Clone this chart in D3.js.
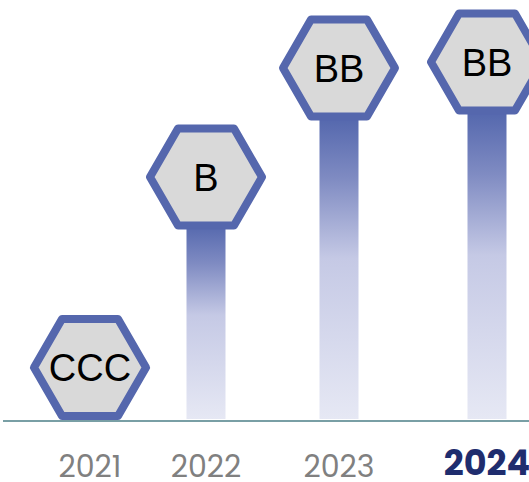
<!DOCTYPE html>
<html>
<head>
<meta charset="utf-8">
<script src="https://cdn.jsdelivr.net/npm/d3@7"></script>
<style>
  html, body { margin: 0; padding: 0; background: #fff; }
  svg { display: block; }
</style>
</head>
<body>
<div id="chart"></div>
<script>
// data
const years = ["2021", "2022", "2023", "2024"];
const ratings = ["CCC", "B", "BB", "BB"];
const heights = [14.1, 64.2, 92.9, 94.5]; // height of each marker, % of the plot
const highlightYear = "2024";

const width = 529;
const height = 482;
const baseY = 421;

const svg = d3
  .select("#chart")
  .append("svg")
  .attr("width", width)
  .attr("height", height);

// columns are not evenly spaced in the original
const x = d3
  .scaleOrdinal()
  .domain(years)
  .range([90, 206, 339, 487]);

const y = d3.scaleLinear().domain([0, 100]).range([baseY, 41]);

const hexR = 56;
const hexH = (Math.sqrt(3) / 2) * hexR;

const defs = svg.append("defs");
const grad = defs
  .append("linearGradient")
  .attr("id", "barGrad")
  .attr("x1", 0)
  .attr("y1", 0)
  .attr("x2", 0)
  .attr("y2", 1);
grad.append("stop").attr("offset", "0%").attr("stop-color", "#4f63ab");
grad.append("stop").attr("offset", "22%").attr("stop-color", "#7f8bc2");
grad.append("stop").attr("offset", "48%").attr("stop-color", "#c5c9e5");
grad.append("stop").attr("offset", "100%").attr("stop-color", "#e6e8f4");

const rows = years.map((d, i) => ({
  year: d,
  rating: ratings[i],
  value: heights[i],
}));

// baseline
svg
  .append("line")
  .attr("x1", 3)
  .attr("x2", width)
  .attr("y1", baseY)
  .attr("y2", baseY)
  .attr("stroke", "#4d7f87")
  .attr("stroke-width", 1.5);

// bars (from bottom of hexagon down to the baseline)
svg
  .selectAll("rect.bar")
  .data(rows.filter((d) => y(d.value) + hexH < baseY))
  .enter()
  .append("rect")
  .attr("class", "bar")
  .attr("x", (d) => x(d.year) - 19.5)
  .attr("width", 39)
  .attr("y", (d) => y(d.value) + hexH - 6)
  .attr("height", (d) => baseY - 2 - (y(d.value) + hexH - 6))
  .attr("fill", "url(#barGrad)");

// hexagons
const hexPoints = d3.range(6).map((k) => {
  const a = (Math.PI / 3) * k;
  return [hexR * Math.cos(a), hexR * Math.sin(a)];
});

const marker = svg
  .selectAll("g.marker")
  .data(rows)
  .enter()
  .append("g")
  .attr("class", "marker")
  .attr("transform", (d) => `translate(${x(d.year)},${y(d.value)})`);

marker
  .append("path")
  .attr("d", d3.line()(hexPoints) + "Z")
  .attr("fill", "#d9d9d9")
  .attr("stroke", "#5567ad")
  .attr("stroke-width", 8)
  .attr("stroke-linejoin", "round");

marker
  .append("text")
  .attr("text-anchor", "middle")
  .attr("dy", "0.36em")
  .attr("font-family", "'Liberation Sans', Arial, sans-serif")
  .attr("font-size", 38)
  .attr("fill", "#000")
  .text((d) => d.rating);

// year labels
svg
  .selectAll("text.year")
  .data(rows)
  .enter()
  .append("text")
  .attr("class", "year")
  .attr("x", (d) => x(d.year))
  .attr("y", (d) => (d.year === highlightYear ? 475 : 477))
  .attr("text-anchor", "middle")
  .attr("font-family", "Poppins, 'Open Sans', sans-serif")
  .attr("font-size", (d) => (d.year === highlightYear ? 35 : 30))
  .attr("font-weight", (d) => (d.year === highlightYear ? 700 : 400))
  .attr("fill", (d) => (d.year === highlightYear ? "#1f2d6e" : "#808080"))
  .text((d) => d.year);
</script>
</body>
</html>
